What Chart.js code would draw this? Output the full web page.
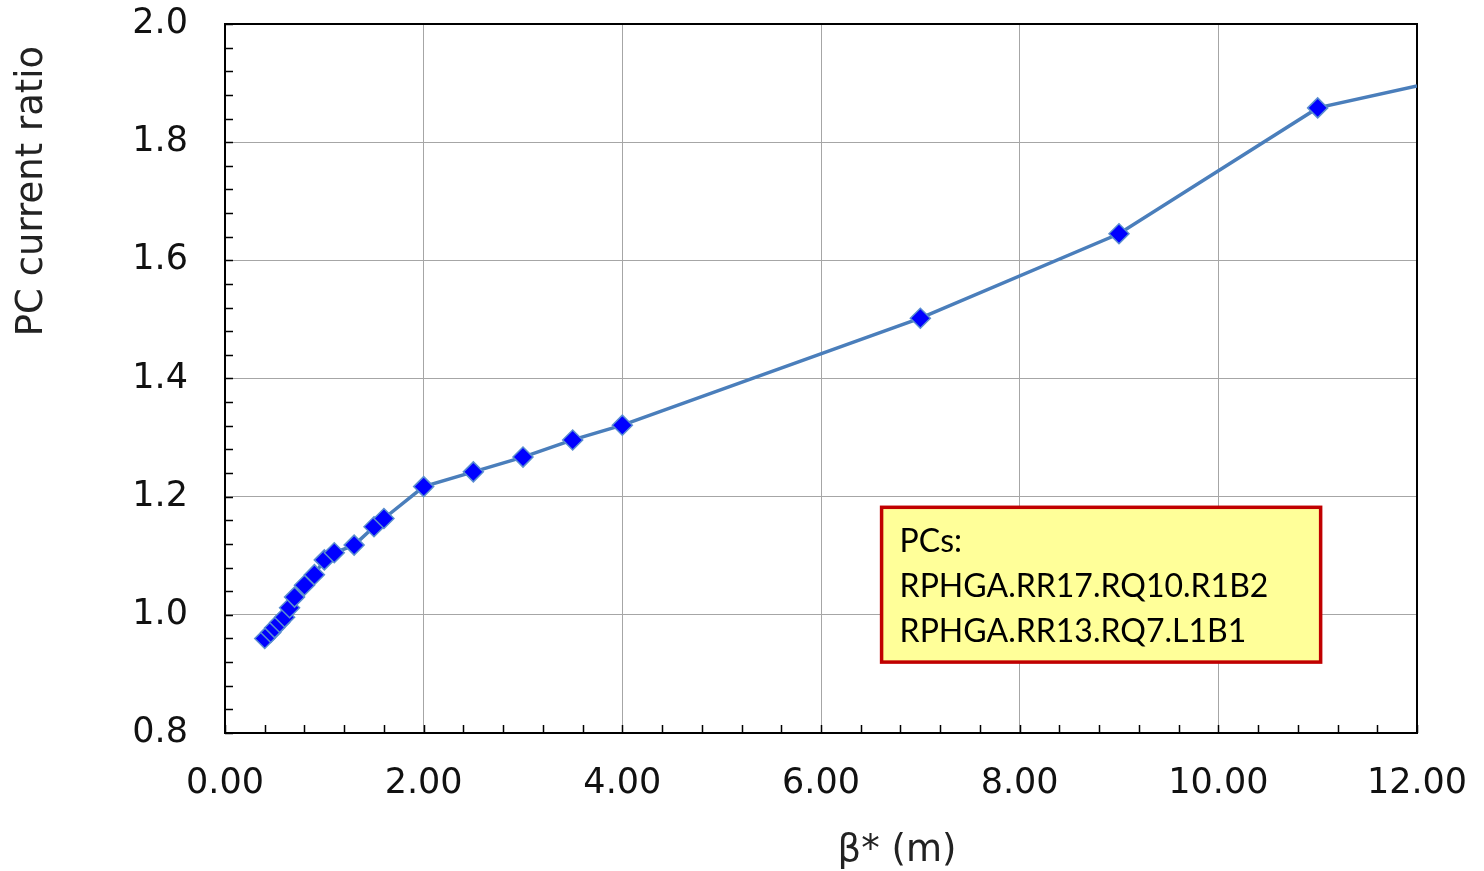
<!DOCTYPE html>
<html>
<head>
<meta charset="utf-8">
<script src="https://cdn.jsdelivr.net/npm/chart.js@4.4.0/dist/chart.umd.min.js"></script>
<style>
  html, body { margin: 0; padding: 0; background: #fff; }
  #wrap { width: 1484px; height: 871px; }
</style>
</head>
<body>
<div id="wrap"><canvas id="myChart" width="1484" height="871"></canvas></div>
<script>
// beta* values (m) and PC current ratio
const betaStar = [0.40, 0.46, 0.50, 0.55, 0.60, 0.65, 0.70, 0.80, 0.90, 1.00, 1.10, 1.30, 1.50, 1.60,
                  2.00, 2.50, 3.00, 3.50, 4.00, 7.00, 9.00, 11.00, 12.00];
const currentRatio = [0.960, 0.970, 0.978, 0.987, 0.996, 1.012, 1.030, 1.050, 1.068, 1.093, 1.105, 1.118, 1.149, 1.163,
                      1.217, 1.242, 1.267, 1.296, 1.321, 1.502, 1.645, 1.858, 1.895];
// last point only continues the line to the frame edge, no marker
const showMarker = betaStar.map((b, i) => i < betaStar.length - 1);

const xTicks = [0, 2, 4, 6, 8, 10, 12];
const yTicks = [0.8, 1.0, 1.2, 1.4, 1.6, 1.8, 2.0];
const xMinorStep = 0.4;
const yMinorStep = 0.04;

const xTitle = 'β* (m)';
const yTitle = 'PC current ratio';
const noteLines = ['PCs:', 'RPHGA.RR17.RQ10.R1B2', 'RPHGA.RR13.RQ7.L1B1'];
// note box corners in data units
const noteBox = { x0: 6.61, x1: 11.03, y0: 1.182, y1: 0.920 };

const points = betaStar.map((b, i) => ({ x: b, y: currentRatio[i] }));

// draws frame, minor ticks, axis titles and note box
const extras = {
  id: 'extras',
  beforeDatasetsDraw(chart) {
    const { ctx, chartArea: a, scales: { x, y } } = chart;
    ctx.save();
    ctx.strokeStyle = '#000';
    ctx.lineWidth = 1.5;
    // minor ticks on left and bottom
    ctx.beginPath();
    for (let v = 0.8; v <= 2.0001; v += yMinorStep) {
      const py = Math.round(y.getPixelForValue(v)) + 0.5;
      ctx.moveTo(a.left, py);
      ctx.lineTo(a.left + 8, py);
    }
    for (let v = 0; v <= 12.0001; v += xMinorStep) {
      const px = Math.round(x.getPixelForValue(v)) + 0.5;
      ctx.moveTo(px, a.bottom);
      ctx.lineTo(px, a.bottom - 8);
    }
    ctx.stroke();
    ctx.lineWidth = 2;
    ctx.strokeRect(a.left, a.top, a.right - a.left, a.bottom - a.top);
    ctx.restore();
  },
  afterDraw(chart) {
    const { ctx, chartArea: a, scales: { x, y } } = chart;
    ctx.save();
    // axis titles
    ctx.fillStyle = '#222';
    ctx.font = '37px "DejaVu Sans"';
    ctx.textAlign = 'center';
    ctx.textBaseline = 'middle';
    ctx.fillText(xTitle, a.left + 672, 851);
    ctx.save();
    ctx.translate(32, 191);
    ctx.rotate(-Math.PI / 2);
    ctx.font = '37px "DejaVu Sans"';
    ctx.fillText(yTitle, 0, 0);
    ctx.restore();

    // note box
    const bx0 = x.getPixelForValue(noteBox.x0), bx1 = x.getPixelForValue(noteBox.x1);
    const by0 = y.getPixelForValue(noteBox.y0), by1 = y.getPixelForValue(noteBox.y1);
    ctx.fillStyle = '#FFFF99';
    ctx.fillRect(bx0, by0, bx1 - bx0, by1 - by0);
    ctx.strokeStyle = '#C00000';
    ctx.lineWidth = 3.5;
    ctx.strokeRect(bx0, by0, bx1 - bx0, by1 - by0);
    ctx.fillStyle = '#000';
    ctx.font = '32px Lato, "Open Sans", sans-serif';
    ctx.textAlign = 'left';
    noteLines.forEach((t, i) => ctx.fillText(t, bx0 + 18, by0 + 34 + i * 45));
    ctx.restore();
  }
};

const ctx = document.getElementById('myChart').getContext('2d');
new Chart(ctx, {
  type: 'scatter',
  data: {
    datasets: [{
      data: points,
      showLine: true,
      borderColor: '#4A7EBB',
      borderWidth: 3.5,
      backgroundColor: '#0000FF',
      pointStyle: 'rectRot',
      pointRadius: showMarker.map(m => m ? 10 : 0),
      pointBorderColor: '#5B8FD0',
      pointBorderWidth: 1.5,
      pointHoverRadius: 10,
      clip: 0
    }]
  },
  options: {
    responsive: false,
    animation: false,
    layout: { padding: { top: 24, right: 67, left: 0, bottom: 0 } },
    plugins: {
      legend: { display: false },
      tooltip: { enabled: false }
    },
    scales: {
      x: {
        type: 'linear',
        min: 0, max: 12,
        afterBuildTicks: s => { s.ticks = xTicks.map(v => ({ value: v })); },
        afterFit: s => { s.height = 138; s.paddingLeft = 0; s.paddingRight = 0; },
        grid: { color: '#A6A6A6', lineWidth: 1, drawTicks: false },
        border: { display: false },
        ticks: {
          padding: 30,
          color: '#111',
          font: { family: 'DejaVu Sans', size: 35 },
          callback: v => v.toFixed(2),
          maxRotation: 0
        }
      },
      y: {
        type: 'linear',
        min: 0.8, max: 2.0,
        afterBuildTicks: s => { s.ticks = yTicks.map(v => ({ value: v })); },
        afterFit: s => { s.width = 225; s.paddingTop = 0; s.paddingBottom = 0; },
        grid: { color: '#A6A6A6', lineWidth: 1, drawTicks: false },
        border: { display: false },
        ticks: {
          padding: 37,
          color: '#111',
          font: { family: 'DejaVu Sans', size: 35 },
          callback: v => v.toFixed(1)
        }
      }
    }
  },
  plugins: [extras]
});
</script>
</body>
</html>
